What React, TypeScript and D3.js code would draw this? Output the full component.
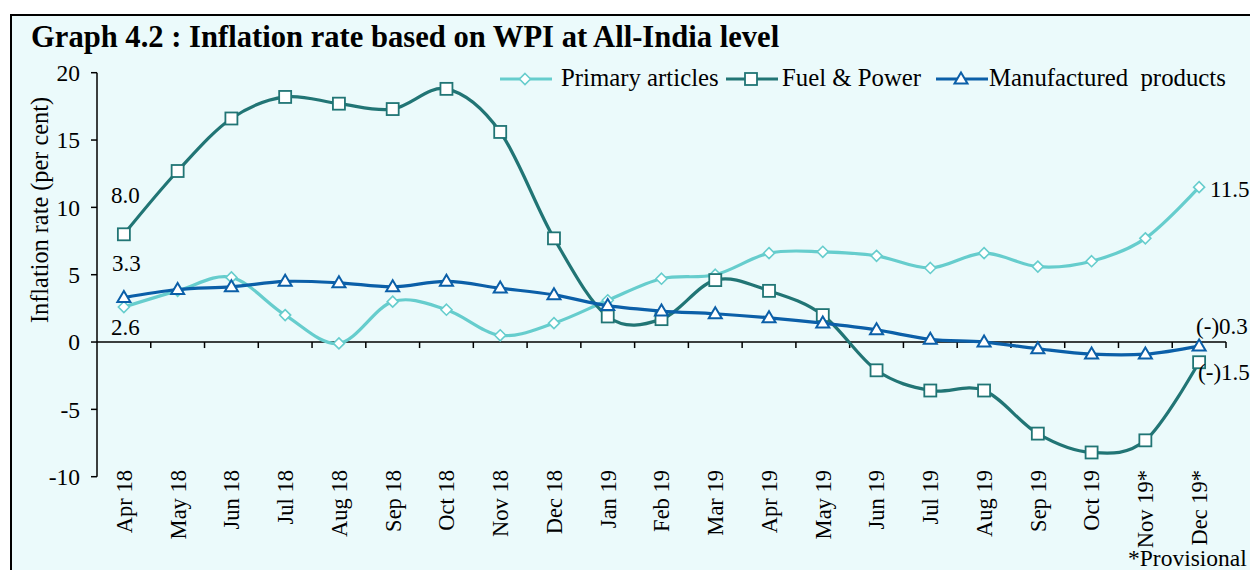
import React from "react";
import * as d3 from "d3";

const months = [
  "Apr 18", "May 18", "Jun 18", "Jul 18", "Aug 18", "Sep 18", "Oct 18", "Nov 18", "Dec 18",
  "Jan 19", "Feb 19", "Mar 19", "Apr 19", "May 19", "Jun 19", "Jul 19", "Aug 19", "Sep 19",
  "Oct 19", "Nov 19*", "Dec 19*",
];

const primaryArticles = [2.6, 3.8, 4.8, 2.0, -0.1, 3.0, 2.4, 0.5, 1.4, 3.1, 4.7, 5.0, 6.6, 6.7, 6.4, 5.5, 6.6, 5.6, 6.0, 7.7, 11.5];
const fuelPower = [8.0, 12.7, 16.6, 18.2, 17.7, 17.3, 18.8, 15.6, 7.7, 1.9, 1.7, 4.6, 3.8, 2.0, -2.1, -3.6, -3.6, -6.8, -8.2, -7.3, -1.5];
const manufactured = [3.3, 3.9, 4.1, 4.5, 4.4, 4.1, 4.5, 4.0, 3.5, 2.7, 2.3, 2.1, 1.8, 1.4, 0.9, 0.2, 0.0, -0.5, -0.9, -0.9, -0.3];

const yTicks = [-10, -5, 0, 5, 10, 15, 20];

const seriesNames = ["Primary articles", "Fuel & Power", "Manufactured  products"];

const FONT = "'Times New Roman', 'Liberation Serif', serif";
const C_PRIMARY = "#66CDCD";
const C_FUEL = "#217575";
const C_MANU = "#0B5FA8";

type Shape = "diamond" | "square" | "triangle";

function Marker({ x, y, shape, color }: { x: number; y: number; shape: Shape; color: string }) {
  if (shape === "square") {
    return <rect x={x - 6} y={y - 6} width={12} height={12} fill="#fff" stroke={color} strokeWidth={1.8} />;
  }
  if (shape === "diamond") {
    const r = 5.5;
    return (
      <path
        d={`M${x},${y - r}L${x + r},${y}L${x},${y + r}L${x - r},${y}Z`}
        fill="#fff"
        stroke={color}
        strokeWidth={1.6}
      />
    );
  }
  const h = 11;
  const w = 13;
  return (
    <path
      d={`M${x},${y - h * 0.6}L${x + w / 2},${y + h * 0.4}L${x - w / 2},${y + h * 0.4}Z`}
      fill="#fff"
      stroke={color}
      strokeWidth={2}
    />
  );
}

export default function App() {
  const W = 1250;
  const H = 570;
  const left = 97;
  const right = 1226;
  const top = 72.7;
  const bottom = 476.7;

  const x = d3.scaleBand<string>().domain(months).range([left, right]).padding(0);
  const cx = (m: string) => (x(m) as number) + x.bandwidth() / 2;
  const y = d3.scaleLinear().domain([-10, 20]).range([bottom, top]);

  const line = d3
    .line<number>()
    .x((_, i) => cx(months[i]))
    .y((d) => y(d))
    .curve(d3.curveCatmullRom.alpha(0));

  const series: { name: string; values: number[]; color: string; shape: Shape }[] = [
    { name: seriesNames[0], values: primaryArticles, color: C_PRIMARY, shape: "diamond" },
    { name: seriesNames[1], values: fuelPower, color: C_FUEL, shape: "square" },
    { name: seriesNames[2], values: manufactured, color: C_MANU, shape: "triangle" },
  ];

  const y0 = y(0);
  const last = months.length - 1;

  const legendItems = [
    { lineX: 500, textX: 561 },
    { lineX: 726, textX: 782 },
    { lineX: 936, textX: 989 },
  ];

  return (
    <svg
      width={W}
      height={H}
      style={{ position: "absolute", left: 0, top: 0, fontFamily: FONT }}
    >
      <rect x={0} y={0} width={W} height={H} fill="#fff" />
      <rect x={11} y={15} width={1260} height={580} fill="#EBFAFB" stroke="#000" strokeWidth={2} />

      <text x={31} y={47} fontSize={30.6} fontWeight="bold" fill="#000">
        Graph 4.2 : Inflation rate based on WPI at All-India level
      </text>

      {/* y axis */}
      <line x1={left} x2={left} y1={top} y2={bottom} stroke="#000" strokeWidth={1.5} />
      {yTicks.map((t) => (
        <g key={t}>
          <line x1={left - 6} x2={left} y1={y(t)} y2={y(t)} stroke="#000" strokeWidth={1.5} />
          <text x={80} y={y(t)} dy="0.35em" textAnchor="end" fontSize={23.5} fill="#000">
            {String(t)}
          </text>
        </g>
      ))}
      <text
        transform={`translate(48, 210) rotate(-90)`}
        textAnchor="middle"
        fontSize={24.3}
        fill="#000"
      >
        Inflation rate (per cent)
      </text>

      {/* x axis */}
      <line x1={left} x2={right} y1={y0} y2={y0} stroke="#000" strokeWidth={1.5} />
      {months.map((m) => (
        <line
          key={"t" + m}
          x1={(x(m) as number) + x.bandwidth()}
          x2={(x(m) as number) + x.bandwidth()}
          y1={y0}
          y2={y0 + 6}
          stroke="#000"
          strokeWidth={1.5}
        />
      ))}
      {months.map((m) => (
        <text
          key={"l" + m}
          transform={`translate(${cx(m)}, 470) rotate(-90)`}
          dy="0.35em"
          textAnchor="end"
          fontSize={22.5}
          fill="#000"
        >
          {m}
        </text>
      ))}

      {/* series */}
      {series.map((s) => (
        <g key={s.name}>
          <path d={line(s.values) || ""} fill="none" stroke={s.color} strokeWidth={3.2} />
          {s.values.map((v, i) => (
            <Marker key={i} x={cx(months[i])} y={y(v)} shape={s.shape} color={s.color} />
          ))}
        </g>
      ))}

      {/* data labels */}
      <text x={cx(months[0]) - 13} y={y(fuelPower[0]) - 31} fontSize={23} fill="#000">
        {fuelPower[0].toFixed(1)}
      </text>
      <text x={cx(months[0]) - 12} y={y(manufactured[0]) - 27} fontSize={23} fill="#000">
        {manufactured[0].toFixed(1)}
      </text>
      <text x={cx(months[0]) - 13} y={y(primaryArticles[0]) + 28} fontSize={23} fill="#000">
        {primaryArticles[0].toFixed(1)}
      </text>
      <text x={cx(months[last]) + 11} y={y(primaryArticles[last]) + 10} fontSize={23} fill="#000">
        {primaryArticles[last].toFixed(1)}
      </text>
      <text x={cx(months[last]) - 3} y={y(manufactured[last]) - 12} fontSize={23} fill="#000">
        {"(-)" + Math.abs(manufactured[last]).toFixed(1)}
      </text>
      <text x={cx(months[last]) - 1} y={y(fuelPower[last]) + 18} fontSize={23} fill="#000">
        {"(-)" + Math.abs(fuelPower[last]).toFixed(1)}
      </text>

      {/* legend */}
      {series.map((s, i) => (
        <g key={"lg" + s.name}>
          <line
            x1={legendItems[i].lineX}
            x2={legendItems[i].lineX + 52}
            y1={79}
            y2={79}
            stroke={s.color}
            strokeWidth={3.2}
          />
          <Marker x={legendItems[i].lineX + 25} y={79} shape={s.shape} color={s.color} />
          <text
            x={legendItems[i].textX}
            y={86}
            fontSize={24.8}
            fill="#000"
            style={{ whiteSpace: "pre" }}
          >
            {s.name}
          </text>
        </g>
      ))}

      <text x={1128} y={566} fontSize={23.5} fill="#000">
        *Provisional
      </text>
    </svg>
  );
}
